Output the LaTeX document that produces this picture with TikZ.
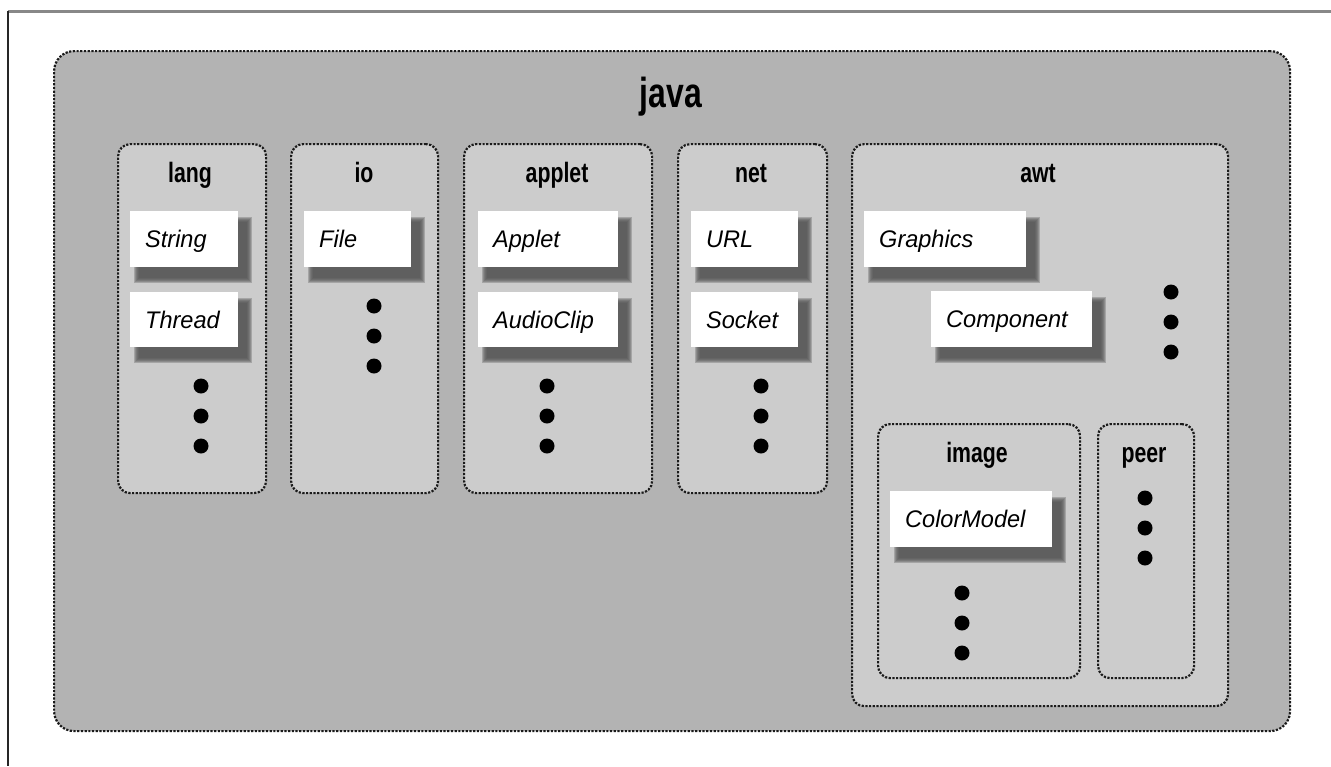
\documentclass[tikz,border=0pt]{standalone}
\usepackage{fontspec}
\setmainfont{Liberation Sans}
\newfontfamily\hdfont[FakeStretch=0.76]{Liberation Sans}
\newfontfamily\clsfont[FakeStretch=0.98]{Liberation Sans}
\definecolor{javafill}{HTML}{B3B3B3}
\definecolor{pkgfill}{HTML}{CCCCCC}
\definecolor{shadowcol}{HTML}{555555}
\definecolor{bordercol}{HTML}{1A1A1A}
\definecolor{framegray}{HTML}{888888}
\tikzset{
  dotborder/.style={draw=bordercol, line width=2.2pt, dash pattern=on 2.2pt off 1.5pt},
  javabox/.style={dotborder, fill=javafill, rounded corners=20pt, inner sep=0pt, anchor=north west},
  pkgbox/.style={dotborder, fill=pkgfill, rounded corners=12pt, inner sep=0pt, anchor=north west},
  clsbox/.style={fill=white, inner sep=0pt, anchor=north west},
  clstext/.style={inner sep=0pt, anchor=base west, font=\clsfont\itshape\fontsize{24}{28}\selectfont},
  hdtext/.style={inner sep=0pt, anchor=base, font=\hdfont\bfseries\fontsize{28}{32}\selectfont},
  titletext/.style={inner sep=0pt, anchor=base, font=\hdfont\bfseries\fontsize{42}{46}\selectfont},
  dotc/.style={circle, fill=black, minimum size=15pt, inner sep=0pt},
}
\newcommand\pkgb[5]{%
  \node[pkgbox, minimum width={#4-#2}, minimum height={#5-#3}] (#1) at (#2,#3) {};}
\newcommand\clsb[6]{%
  \foreach \k in {5,4,3,2,1,0}{%
    \fill[shadowcol, opacity=0.32] ({#2+9-\k},{#3+11-\k}) rectangle ({#4+9+\k},{#5+11+\k});}
  \node[clsbox, minimum width={#4-#2}, minimum height={#5-#3}] (#1) at (#2,#3) {};
  \node[clstext] (#1-t) at ({#2+15},{#3+36}) {#6};}
\newcommand\dotsv[4]{% prefix, x, y0, step
  \node[dotc] (#1-d1) at (#2,#3) {};
  \node[dotc] (#1-d2) at (#2,{#3+#4}) {};
  \node[dotc] (#1-d3) at (#2,{#3+2*#4}) {};}
\begin{document}
\begin{tikzpicture}[x=1pt,y=-1pt]
\useasboundingbox[fill=white] (0,0) rectangle (1331,766);
% outer java package
\node[javabox, minimum width=1236, minimum height=680] (java) at (53,50) {};
\node[titletext] (java-t) at (671,107) {java};
% packages
\pkgb{lang}{117}{143}{265}{492}
\pkgb{io}{290}{143}{437}{492}
\pkgb{applet}{463}{143}{651}{492}
\pkgb{net}{677}{143}{826}{492}
\pkgb{awt}{851}{143}{1227}{705}
\pkgb{image}{877}{423}{1079}{677}
\pkgb{peer}{1097}{423}{1193}{677}
\node[hdtext] (lang-t) at (190,182) {lang};
\node[hdtext] (io-t) at (364,182) {io};
\node[hdtext] (applet-t) at (557,182) {applet};
\node[hdtext] (net-t) at (751,182) {net};
\node[hdtext] (awt-t) at (1038,182) {awt};
\node[hdtext] (image-t) at (977,462) {image};
\node[hdtext] (peer-t) at (1144,462) {peer};
% classes
\clsb{string}{130}{211}{238}{267}{String}
\clsb{thread}{130}{292}{238}{347}{Thread}
\clsb{file}{304}{211}{411}{267}{File}
\clsb{appletc}{478}{211}{618}{267}{Applet}
\clsb{audioclip}{478}{292}{618}{347}{AudioClip}
\clsb{url}{691}{211}{798}{267}{URL}
\clsb{socket}{691}{292}{798}{347}{Socket}
\clsb{graphics}{864}{211}{1026}{267}{Graphics}
\clsb{component}{931}{291}{1092}{347}{Component}
\clsb{colormodel}{890}{491}{1052}{547}{ColorModel}
% ellipsis dots
\dotsv{langd}{201}{386}{30}
\dotsv{iod}{374}{306}{30}
\dotsv{appletd}{547}{386}{30}
\dotsv{netd}{761}{386}{30}
\dotsv{awtd}{1171}{292}{30}
\dotsv{imaged}{962}{593}{30}
\dotsv{peerd}{1145}{498}{30}
% frame lines
\coordinate (fl-top) at (8,11);
\coordinate (fl-bot) at (8,766);
\coordinate (ft-right) at (1331,11);
\draw[framegray, line width=3pt] (fl-top) -- (ft-right);
\draw[black!85, line width=2pt] (fl-top) -- (fl-bot);
\end{tikzpicture}
\end{document}
